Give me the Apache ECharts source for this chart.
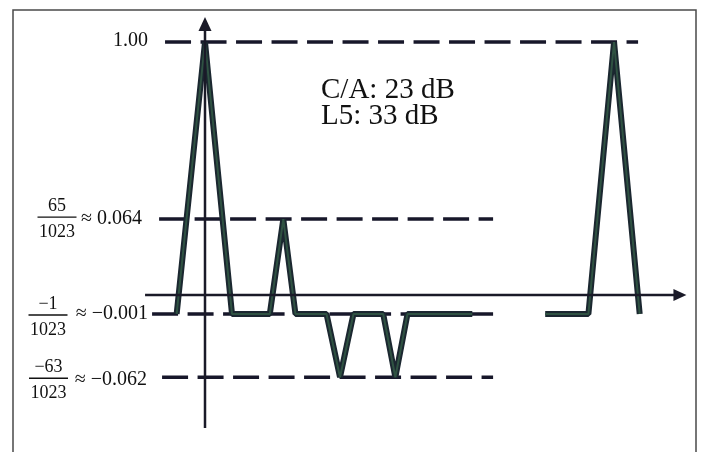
<!DOCTYPE html>
<html>
<head>
<meta charset="utf-8">
<script src="https://cdn.jsdelivr.net/npm/echarts@6/dist/echarts.min.js"></script>
<style>
html,body{margin:0;padding:0;background:#fff;}
#c{width:702px;height:452px;}
</style>
</head>
<body>
<div id="c"></div>
<script>
// ---- data (x in chips relative to the peak, y = correlation value) ----
const mainChips = [-1.05, 0, 1.0, 2.4, 2.9, 3.35, 4.5, 5.0, 5.5, 6.6, 7.05, 7.5, 9.9];
const mainCorr  = [-0.001, 1.00, -0.001, -0.001, 0.064, -0.001, -0.001, -0.062, -0.001, -0.001, -0.062, -0.001, -0.001];
const farChips  = [12.6, 14.2, 15.15, 16.1];
const farCorr   = [-0.001, -0.001, 1.00, -0.001];
const levelValues = [1.00, 0.064, -0.001, -0.062];
const levelNums   = [null, '65', '−1', '−63'];
const levelDens   = [null, '1023', '1023', '1023'];
const levelTexts  = ['1.00', '≈ 0.064', '≈ −0.001', '≈ −0.062'];
const noteLines   = ['C/A: 23 dB', 'L5: 33 dB'];

// ---- schematic (broken) vertical scale ----
const schemBreaks = [[-0.062, -3.25], [-0.001, -0.75], [0, 0], [0.064, 3], [1.0, 10]];
function schem(v){
  for (let i = 0; i < schemBreaks.length - 1; i++){
    const a = schemBreaks[i], b = schemBreaks[i+1];
    if (v <= b[0] || i === schemBreaks.length - 2){
      return a[1] + (v - a[0]) * (b[1] - a[1]) / (b[0] - a[0]);
    }
  }
}
const pts = (xs, ys) => xs.map((x, i) => [x, schem(ys[i])]);

const SERIF = '"Liberation Serif","Times New Roman",serif';
const DASH = '#17172a';
const AX = '#1a1a28';

const levelExtents = [[-1.48, 16.04], [-1.70, 10.67], [-1.96, 10.67], [-1.59, 10.67]];

const series = [];
levelValues.forEach((v, i) => {
  series.push({
    type: 'line', silent: true, symbol: 'none', clip: false,
    data: [[levelExtents[i][0], schem(v)], [levelExtents[i][1], schem(v)]],
    lineStyle: {color: DASH, width: 3.5, type: [26, 9.5], cap: 'butt'},
    z: 1
  });
});
[pts(mainChips, mainCorr), pts(farChips, farCorr)].forEach(d => {
  series.push({type: 'line', silent: true, symbol: 'none', clip: false, data: d,
    lineStyle: {color: '#1b2730', width: 6}, z: 2});
  series.push({type: 'line', silent: true, symbol: 'none', clip: false, data: d,
    lineStyle: {color: '#2f5242', width: 2}, z: 3});
});
// axes with arrow heads
series.push({type: 'line', silent: true, clip: false, z: 4,
  data: [{value: [0, -5.26], symbol: 'none'}, {value: [0, 10.71], symbol: 'triangle', symbolSize: [13, 14]}],
  lineStyle: {color: AX, width: 2.5}, itemStyle: {color: AX}});
series.push({type: 'line', silent: true, clip: false, z: 4,
  data: [{value: [-2.22, 0], symbol: 'none'}, {value: [17.59, 0], symbol: 'triangle', symbolSize: [12, 13], symbolRotate: -90}],
  lineStyle: {color: AX, width: 2.5}, itemStyle: {color: AX}});

const chart = echarts.init(document.getElementById('c'), null, {renderer: 'canvas'});
chart.setOption({
  animation: false,
  backgroundColor: '#fff',
  grid: {left: 0, right: 0, top: 0, bottom: 0},
  xAxis: {type: 'value', min: -205/27, max: 497/27, show: false, splitLine: {show: false}},
  yAxis: {type: 'value', min: -157/25.3, max: 295/25.3, show: false, splitLine: {show: false}},
  series: series
});

// ---- text labels ----
const g = [];
g.push({type: 'rect', shape: {x: 13, y: 10, width: 683, height: 450}, style: {fill: 'none', stroke: '#4a4a4a', lineWidth: 1.5}, z: 10});
const labelRight = [148, 142, 148, 147];
const labelDy = [-1, 0, 0, 3];
const fracCx = [0, 57, 48, 48.5];
const fracBarDy = [0, -2, 1, 1];
levelValues.forEach((v, i) => {
  const y = chart.convertToPixel({gridIndex: 0}, [0, schem(v)])[1];
  g.push({type: 'text', x: labelRight[i], y: y + labelDy[i], z: 10,
    style: {text: levelTexts[i], fontSize: 20, fontFamily: SERIF, fill: '#111', align: 'right', verticalAlign: 'middle'}});
  if (levelNums[i]){
    const by = y + fracBarDy[i];
    const cx = fracCx[i];
    g.push({type: 'text', x: cx, y: by - 11, z: 10,
      style: {text: levelNums[i], fontSize: 18, fontFamily: SERIF, fill: '#111', align: 'center', verticalAlign: 'middle'}});
    g.push({type: 'rect', shape: {x: cx - 19.5, y: by - 0.7, width: 39, height: 1.4}, style: {fill: '#111'}, z: 10});
    g.push({type: 'text', x: cx, y: by + 15, z: 10,
      style: {text: levelDens[i], fontSize: 18, fontFamily: SERIF, fill: '#111', align: 'center', verticalAlign: 'middle'}});
  }
});
noteLines.forEach((t, i) => {
  g.push({type: 'text', x: 321, y: 90 + i * 26, z: 10,
    style: {text: t, fontSize: 29, fontFamily: SERIF, fill: '#111', align: 'left', verticalAlign: 'middle'}});
});
chart.setOption({graphic: g});
</script>
</body>
</html>
